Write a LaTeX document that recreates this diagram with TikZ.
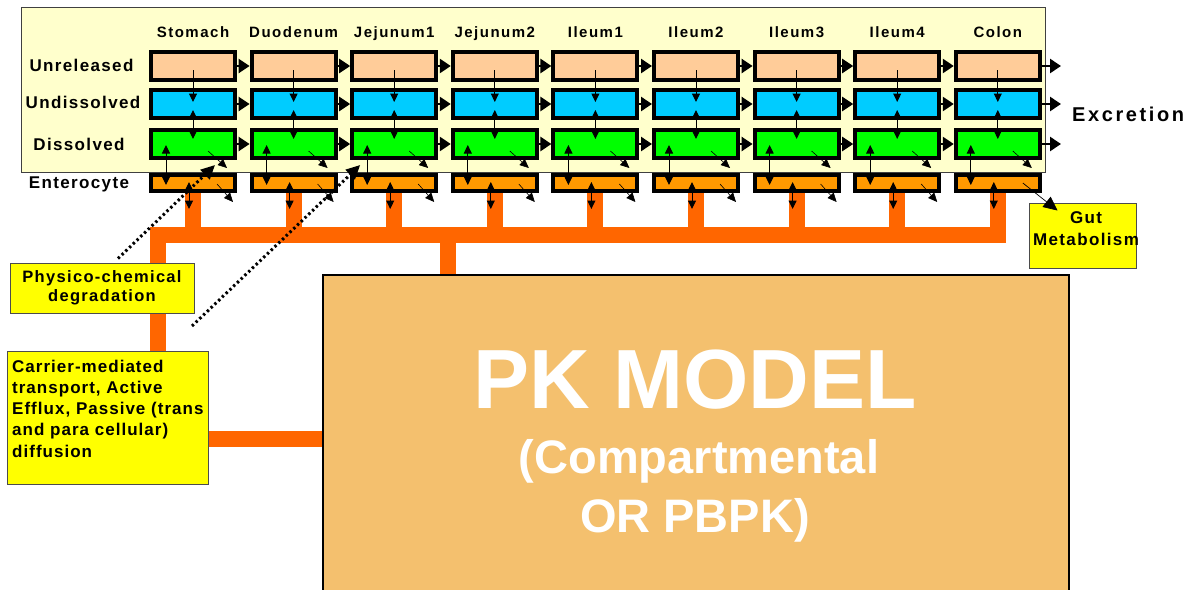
\documentclass[tikz,border=0pt]{standalone}
\usepackage{fontspec}
\setmainfont{Liberation Sans}
\newfontfamily\fsp{Liberation Sans}[LetterSpace=8]
\newfontfamily\fcar{Liberation Sans}[LetterSpace=6]
\newfontfamily\fcol{Liberation Sans}[LetterSpace=10]
\newfontfamily\fex{Liberation Sans}[LetterSpace=13]
\usetikzlibrary{arrows.meta,calc}
\definecolor{panelc}{HTML}{FFFFCC}
\definecolor{unrel}{HTML}{FFCC99}
\definecolor{undis}{HTML}{00CCFF}
\definecolor{disc}{HTML}{00FF00}
\definecolor{entc}{HTML}{FF9900}
\definecolor{busc}{HTML}{FF6600}
\definecolor{pkc}{HTML}{F4C06E}
\definecolor{notec}{HTML}{FFFF00}
\pgfdeclarelayer{bg}
\pgfsetlayers{bg,main}
\tikzset{
  cell/.style={draw=black, line width=4pt, minimum width=84pt, minimum height=28pt, inner sep=0pt},
  ecell/.style={cell, minimum height=16pt, fill=entc},
  flow/.style={line width=2.5pt, -{Triangle[length=11pt,width=14pt]}},
  thinar/.style={line width=1pt, draw=black, -{Triangle[length=8.5pt,width=8pt]}},
  dthinar/.style={line width=1pt, draw=black, {Triangle[length=8.5pt,width=8pt]}-{Triangle[length=8.5pt,width=8pt]}},
  diag/.style={line width=0.6pt, -{Triangle[length=9pt,width=8pt]}},
  busline/.style={draw=busc, line width=16pt},
  note/.style={draw=black!70, line width=1pt, fill=notec, inner sep=0pt},
  dots/.style={line width=3pt, dash pattern=on 2.4pt off 2.8pt, -{Triangle[length=14pt,width=13pt]}},
  collab/.style={font=\fcol\bfseries\fontsize{15}{18}\selectfont, anchor=base, inner sep=0pt},
  rowlab/.style={font=\fsp\bfseries\fontsize{17}{20}\selectfont, anchor=base, inner sep=0pt},
  pktext/.style={text=white, anchor=base, inner sep=0pt},
}
\begin{document}
\begin{tikzpicture}[x=1pt,y=-1pt]
\useasboundingbox (0,0) rectangle (1188,589);
% panel
\node[draw=black!75, line width=1pt, fill=panelc, minimum width=1024pt, minimum height=165pt, inner sep=0pt] (panel) at (533,89.5) {};
% cells
\foreach \i in {1,...,9}{
  \pgfmathsetmacro{\cx}{193+100.6*(\i-1)}
  \node[cell, fill=unrel] (u\i) at (\cx,66) {};
  \node[cell, fill=undis] (d\i) at (\cx,104) {};
  \node[cell, fill=disc] (s\i) at (\cx,144) {};
  \node[ecell] (e\i) at (\cx,183) {};
}
% column labels
\foreach \i/\t in {1/Stomach,2/Duodenum,3/Jejunum1,4/Jejunum2,5/Ileum1,6/Ileum2,7/Ileum3,8/Ileum4,9/Colon}{
  \node[collab] (c\i) at (u\i |- 0,37) {\t};
}
% row labels
\node[rowlab] (r1) at (81.5,71.7) {Unreleased};
\node[rowlab] (r2) at (83,108) {Undissolved};
\node[rowlab] (r3) at (79,150) {Dissolved};
\node[rowlab] (r4) at (79,188) {Enterocyte};
% flow arrows between compartments
\foreach \i [evaluate=\i as \j using int(\i+1)] in {1,...,8}{
  \draw[flow] (u\i) -- (u\j);
  \draw[flow] (d\i) -- (d\j);
  \draw[flow] (s\i) -- (s\j);
}
\coordinate (x1) at (1061,66);
\coordinate (x2) at (1061,104);
\coordinate (x3) at (1061,144);
\draw[flow] (u9) -- (x1);
\draw[flow] (d9) -- (x2);
\draw[flow] (s9) -- (x3);
\node[font=\fex\bfseries\fontsize{20}{24}\selectfont, anchor=base west, inner sep=0pt] (excr) at (1072,121) {Excretion};
% inner arrows
\foreach \i in {1,...,9}{
  \draw[thinar] ($(u\i.center)+(0,4)$) -- ($(d\i.center)+(0,-2)$);
  \draw[dthinar] ($(d\i.center)+(0,6)$) -- ($(s\i.center)+(0,-5)$);
  \draw[dthinar] ($(s\i.center)+(-27,1)$) -- ($(e\i.center)+(-27,2)$);
  \draw[dthinar] ($(e\i.center)+(-4,-1)$) -- ($(e\i.south)+(-4,16)$);
  \draw[diag] ($(s\i.center)+(15,7)$) -- ($(s\i.center)+(34,24)$);
}
\foreach \i in {1,...,8}{
  \draw[diag] ($(e\i.center)+(24,1)$) -- ($(e\i.center)+(40,19)$);
}
% notes
\node[note, minimum width=184pt, minimum height=50pt, align=center, font=\fsp\bfseries\fontsize{16.5}{19}\selectfont] (phys) at (102,288) {Physico-chemical\\degradation};
\node[note, minimum width=201pt, minimum height=133pt] (carrier) at (107.5,417.5) {};
\node[anchor=north west, align=left, inner sep=0pt, font=\fcar\bfseries\fontsize{17}{21.3}\selectfont] (carriert) at (12,359.5) {Carrier-mediated\\transport, Active\\Efflux, Passive (trans\\and para cellular)\\diffusion};
\node[note, minimum width=107pt, minimum height=65pt] (gut) at (1082.5,235.5) {};
\node[anchor=north, align=center, inner sep=0pt, font=\fsp\bfseries\fontsize{17}{22}\selectfont] (gutt) at (1086,211.5) {Gut\\Metabolism};
\draw[line width=0.7pt, -{Triangle[length=14pt,width=13pt]}] ($(e9.center)+(25,0)$) -- ($(gut.north west)+(29,8)$);
% PK model
\node[draw=black, line width=2pt, fill=pkc, minimum width=746pt, minimum height=330pt, anchor=north west, inner sep=0pt] (pk) at (322,274) {};
\node[pktext, font=\bfseries\fontsize{84}{84}\selectfont] (pk1) at (695,408) {PK MODEL};
\node[pktext, font=\bfseries\fontsize{47}{47}\selectfont] (pk2) at (699,473) {(Compartmental};
\node[pktext, font=\bfseries\fontsize{47}{47}\selectfont] (pk3) at (695,532) {OR PBPK)};
% bus
\coordinate (busL) at (158,235);
\coordinate (pkx) at (448,235);
\coordinate (cb) at (208,439);
\begin{pgfonlayer}{bg}
  \fill[white] (0,0) rectangle (1188,589);
  \draw[busline] (carrier.north -| busL) -- (busL) -- (e9.south |- busL) -- (e9.south);
  \foreach \i in {1,...,8}{\draw[busline] (e\i.south) -- (e\i.south |- busL);}
  \draw[busline] (pkx) -- (pkx |- pk.north);
  \draw[busline] (carrier.east |- cb) -- (pk.west |- cb);
\end{pgfonlayer}
% dotted arrows
\coordinate (d2a) at (192,326);
\draw[dots] ($(phys.north)+(16,-4)$) -- ($(s1.south)+(22,5)$);
\draw[dots] (d2a) -- ($(s3.south west)+(10,5)$);
\end{tikzpicture}
\end{document}
